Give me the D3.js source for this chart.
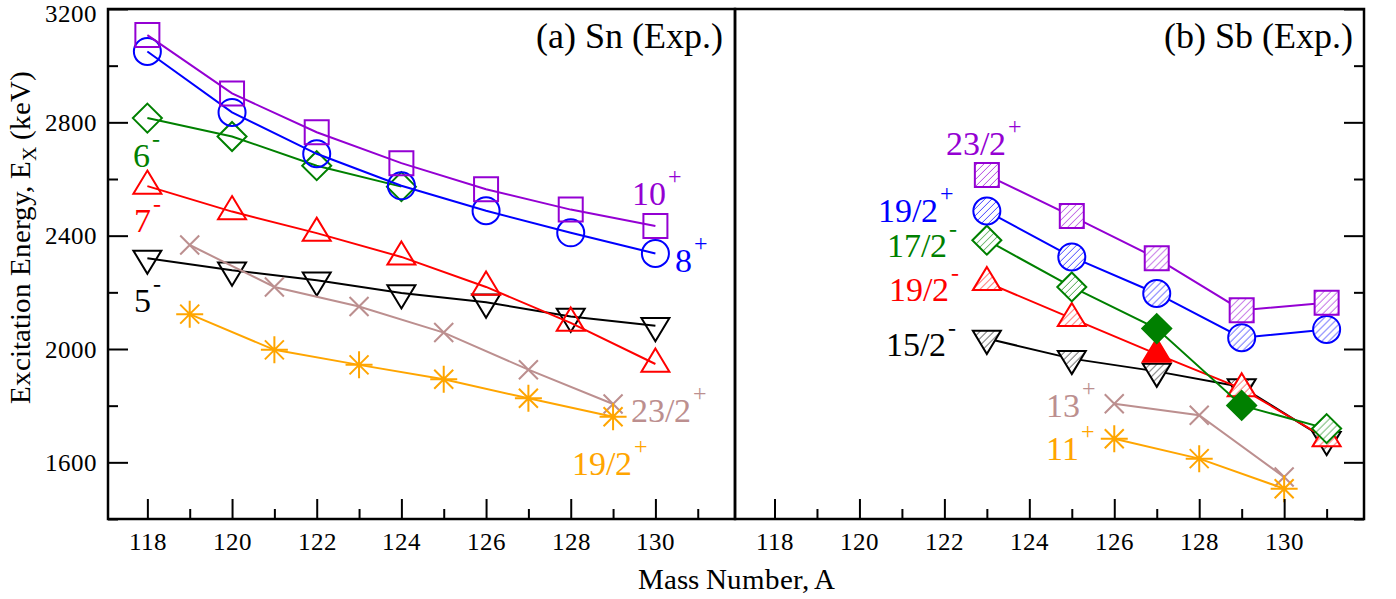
<!DOCTYPE html>
<html><head><meta charset="utf-8">
<script src="https://cdn.jsdelivr.net/npm/d3@7"></script>
<style>
@font-face{font-family:"ChartSerif";src:local("Liberation Serif"),local("LiberationSerif"),local("Liberation Serif Regular"),local("LiberationSerif-Regular");}
body{margin:0;background:#fff}svg{display:block}
#c text{font-family:"ChartSerif","Liberation Serif",serif}
</style>
</head><body><svg id="c" width="1396" height="599"></svg>
<script>
// ---- data ----
const snEvenA = [118,120,122,124,126,128,130];
const snOddA = [119,121,123,125,127,129];
const sn10p = [3108,2902,2765,2656,2564,2492,2434];
const sn8p  = [3050,2835,2689,2576,2488,2410,2337];
const sn6mA = [118,120,122,124];
const sn6m  = [2815,2750,2647,2573];
const sn7m  = [2575,2485,2409,2325,2219,2092,1947];
const sn5m  = [2320,2278,2243,2198,2165,2115,2082];
const sn23_2p = [2367,2219,2150,2058,1927,1806];
const sn19_2p = [2123,1997,1944,1893,1826,1761];

const sbOddA = [123,125,127,129,131];
const sbEvenA = [126,128,130];
const sb23_2p = [2614,2469,2320,2137,2163];
const sb19_2p = [2487,2325,2196,2040,2069];
const sb17_2m = [2384,2219,2072,1801,1719];
const sb17_2mFilled = [false,false,true,true,false];
const sb19_2m = [2235,2108,1982,1860,1684];
const sb19_2mFilled = [false,false,true,false,false];
const sb15_2m = [2037,1966,1921,1866,1680];
const sb13p = [1807,1766,1548];
const sb11p = [1683,1613,1507];

const xTicks = [118,120,122,124,126,128,130];
const xMinor = [119,121,123,125,127,129,131];
const yTicks = [1600,2000,2400,2800,3200];
const yMinor = [1400,1800,2200,2600,3000];

const C = {violet:"#9400d3", blue:"#0000ff", green:"#008000", red:"#ff0000", black:"#000000", brown:"#bc8f8f", orange:"#ffa500"};

// ---- layout ----
const svg = d3.select("#c");
const yTop=9, yBot=519;
const panels = [{x0:108,x1:735},{x0:735,x1:1364}];
const y = d3.scaleLinear().domain([1400,3200]).range([yBot,yTop]);
const xs = panels.map(p => d3.scaleLinear().domain([117.07,131.88]).range([p.x0,p.x1]));

// hatch patterns
const defs = svg.append("defs");
Object.entries(C).forEach(([k,col])=>{
  const p = defs.append("pattern").attr("id","h_"+k).attr("patternUnits","userSpaceOnUse")
    .attr("width",7).attr("height",7);
  p.append("rect").attr("width",7).attr("height",7).attr("fill","#fff");
  p.append("path").attr("d","M0,7L7,0M-1,1L1,-1M6,8L8,6").attr("stroke",col).attr("stroke-width",1).attr("stroke-opacity",0.75);
});

// symbols
function symPath(type){
  switch(type){
    case "square": return "M-12,-12H12V12H-12Z";
    case "circle": return d3.symbol().type(d3.symbolCircle).size(Math.PI*13.5*13.5)();
    case "diamond": return "M0,-14.5L14.5,0L0,14.5L-14.5,0Z";
    case "up": return "M0,-15.5L14,7.7L-14,7.7Z";
    case "down": return "M0,15.5L14,-7.7L-14,-7.7Z";
    case "x": return "M-9.5,-9.5L9.5,9.5M-9.5,9.5L9.5,-9.5";
    case "star": return "M0,-13.5V13.5M-13.5,0H13.5M-9.5,-9.5L9.5,9.5M-9.5,9.5L9.5,-9.5";
  }
}

function drawSeries(g, xsc, A, V, col, sym, fillMode, filled){
  const pts = A.map((a,i)=>({a, v:V[i], f: filled ? filled[i] : false}));
  g.append("path").datum(pts)
    .attr("d", d3.line().x(d=>xsc(d.a)).y(d=>y(d.v)))
    .attr("fill","none").attr("stroke",C[col]).attr("stroke-width",2);
  g.selectAll(null).data(pts).enter().append("path")
    .attr("transform", d=>`translate(${xsc(d.a)},${y(d.v)})`)
    .attr("d", symPath(sym))
    .attr("fill", d => (sym==="x"||sym==="star") ? "none" : d.f ? C[col] : (fillMode==="hatch" ? `url(#h_${col})` : "none"))
    .attr("stroke", C[col]).attr("stroke-width", 2);
}

// ---- panel (a) ----
const ga = svg.append("g");
const xa = xs[0];
drawSeries(ga, xa, snEvenA, sn5m, "black", "down", "none");
drawSeries(ga, xa, snEvenA, sn7m, "red", "up", "none");
drawSeries(ga, xa, sn6mA, sn6m, "green", "diamond", "none");
drawSeries(ga, xa, snEvenA, sn8p, "blue", "circle", "none");
drawSeries(ga, xa, snEvenA, sn10p, "violet", "square", "none");
drawSeries(ga, xa, snOddA, sn23_2p, "brown", "x", "none");
drawSeries(ga, xa, snOddA, sn19_2p, "orange", "star", "none");

// ---- panel (b) ----
const gb = svg.append("g");
const xb = xs[1];
drawSeries(gb, xb, sbOddA, sb15_2m, "black", "down", "hatch");
drawSeries(gb, xb, sbOddA, sb19_2m, "red", "up", "hatch", sb19_2mFilled);
drawSeries(gb, xb, sbOddA, sb17_2m, "green", "diamond", "hatch", sb17_2mFilled);
drawSeries(gb, xb, sbOddA, sb19_2p, "blue", "circle", "hatch");
drawSeries(gb, xb, sbOddA, sb23_2p, "violet", "square", "hatch");
drawSeries(gb, xb, sbEvenA, sb13p, "brown", "x", "none");
drawSeries(gb, xb, sbEvenA, sb11p, "orange", "star", "none");

// ---- axes ----
const ax = svg.append("g");
panels.forEach((p,i)=>{
  const xsc = xs[i];
  const gx = ax.append("g").attr("transform",`translate(0,${yBot})`)
    .call(d3.axisBottom(xsc).tickValues(xTicks).tickSize(-20).tickPadding(10).tickFormat(d3.format("d")));
  gx.select(".domain").remove();
  gx.attr("font-family", null);
  gx.selectAll("line").attr("stroke-width",2);
  gx.selectAll("text").attr("font-size",25).attr("fill","#000").attr("dy","0.72em").attr("y",13);
  const gm = ax.append("g").attr("transform",`translate(0,${yBot})`)
    .call(d3.axisBottom(xsc).tickValues(xMinor).tickSize(-10).tickFormat(""));
  gm.select(".domain").remove();
  gm.selectAll("line").attr("stroke-width",2);
});
// left y axis
const gyl = ax.append("g").attr("transform",`translate(${panels[0].x0},0)`)
  .call(d3.axisLeft(y).tickValues(yTicks).tickSize(-20).tickPadding(11).tickFormat(d3.format("d")));
gyl.select(".domain").remove();
gyl.attr("font-family", null);
gyl.selectAll("line").attr("stroke-width",2);
gyl.selectAll("text").attr("font-size",25).attr("fill","#000").attr("x",-11);
gyl.selectAll(".tick").filter(d=>d===3200).select("text").attr("dy","0.5em");
const gylm = ax.append("g").attr("transform",`translate(${panels[0].x0},0)`)
  .call(d3.axisLeft(y).tickValues(yMinor).tickSize(-10).tickFormat(""));
gylm.select(".domain").remove(); gylm.selectAll("line").attr("stroke-width",2);
// right y axis
const gyr = ax.append("g").attr("transform",`translate(${panels[1].x1},0)`)
  .call(d3.axisRight(y).tickValues(yTicks).tickSize(-20).tickFormat(""));
gyr.select(".domain").remove(); gyr.selectAll("line").attr("stroke-width",2);
const gyrm = ax.append("g").attr("transform",`translate(${panels[1].x1},0)`)
  .call(d3.axisRight(y).tickValues(yMinor).tickSize(-10).tickFormat(""));
gyrm.select(".domain").remove(); gyrm.selectAll("line").attr("stroke-width",2);

// frames
panels.forEach(p=>{
  ax.append("rect").attr("x",p.x0).attr("y",yTop).attr("width",p.x1-p.x0).attr("height",yBot-yTop)
    .attr("fill","none").attr("stroke","#000").attr("stroke-width",2.5);
});

// axis titles
svg.append("text").attr("x",736).attr("y",589).attr("text-anchor","middle").attr("font-size",29).text("Mass Number, A");
const yt = svg.append("text").attr("transform","translate(30,237) rotate(-90)").attr("text-anchor","middle").attr("font-size",29);
yt.append("tspan").text("Excitation Energy, E");
yt.append("tspan").attr("font-size",20).attr("dy",6).text("X");
yt.append("tspan").attr("dy",-6).text(" (keV)");

// panel titles
svg.append("text").attr("x",723).attr("y",48).attr("text-anchor","end").attr("font-size",36).text("(a) Sn (Exp.)");
svg.append("text").attr("x",1353).attr("y",48).attr("text-anchor","end").attr("font-size",36).text("(b) Sb (Exp.)");

// state labels
const labels = [
  {t:"10", s:"+", x:632, y:205, c:"violet"},
  {t:"8", s:"+", x:675, y:272, c:"blue"},
  {t:"6", s:"-", x:133, y:167, c:"green"},
  {t:"7", s:"-", x:134, y:232, c:"red"},
  {t:"5", s:"-", x:134, y:312, c:"black"},
  {t:"23/2", s:"+", x:631, y:422, c:"brown"},
  {t:"19/2", s:"+", x:572, y:475, c:"orange"},
  {t:"23/2", s:"+", x:946, y:155, c:"violet"},
  {t:"19/2", s:"+", x:878, y:222, c:"blue"},
  {t:"17/2", s:"-", x:887, y:257, c:"green"},
  {t:"19/2", s:"-", x:889, y:301, c:"red"},
  {t:"15/2", s:"-", x:886, y:356, c:"black"},
  {t:"13", s:"+", x:1046, y:417, c:"brown"},
  {t:"11", s:"+", x:1046, y:460, c:"orange"}
];
labels.forEach(l=>{
  const t = svg.append("text").attr("x",l.x).attr("y",l.y).attr("font-size",34).attr("fill",C[l.c]);
  t.append("tspan").text(l.t);
  t.append("tspan").attr("font-size",24).attr("dy",-20).attr("dx",2).text(l.s);
});
</script></body></html>
